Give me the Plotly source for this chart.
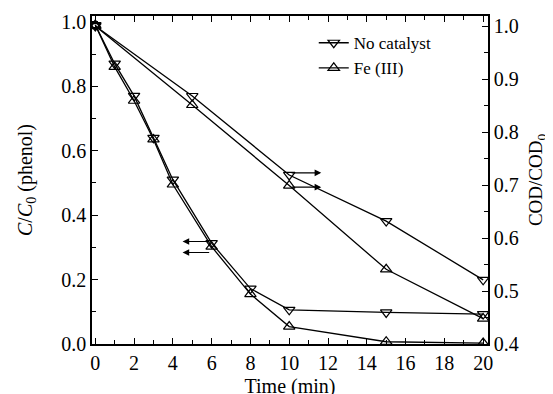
import plotly.graph_objects as go

# Data
t_phenol = [0, 1, 2, 3, 4, 6, 8, 10, 15, 20]
phenol_no_cat = [0.99, 0.87, 0.77, 0.64, 0.51, 0.313, 0.172, 0.106, 0.098, 0.093]
phenol_fe = [0.99, 0.86, 0.755, 0.635, 0.495, 0.302, 0.155, 0.054, 0.007, 0.003]

t_cod = [0, 5, 10, 15, 20]
cod_no_cat = [1.0, 0.868, 0.719, 0.632, 0.521]
cod_fe = [1.0, 0.851, 0.699, 0.541, 0.448]

x_ticks = [0, 2, 4, 6, 8, 10, 12, 14, 16, 18, 20]
yl_ticks = [0.0, 0.2, 0.4, 0.6, 0.8, 1.0]
yr_ticks = [0.4, 0.5, 0.6, 0.7, 0.8, 0.9, 1.0]

FONT = "Liberation Serif, Times New Roman, serif"
line_style = dict(color="black", width=1.3)
mk = 10

fig = go.Figure()
fig.add_trace(go.Scatter(x=t_phenol, y=phenol_no_cat, mode="lines+markers", name="No catalyst",
                         line=line_style, marker=dict(symbol="triangle-down-open", size=mk, color="black", line=dict(width=1.2)),
                         yaxis="y", legendgroup="a", showlegend=True))
fig.add_trace(go.Scatter(x=t_phenol, y=phenol_fe, mode="lines+markers", name="Fe (III)",
                         line=line_style, marker=dict(symbol="triangle-up-open", size=mk, color="black", line=dict(width=1.2)),
                         yaxis="y", legendgroup="b", showlegend=True))
fig.add_trace(go.Scatter(x=t_cod, y=cod_no_cat, mode="lines+markers", name="No catalyst",
                         line=line_style, marker=dict(symbol="triangle-down-open", size=mk, color="black", line=dict(width=1.2)),
                         yaxis="y2", legendgroup="a", showlegend=False))
fig.add_trace(go.Scatter(x=t_cod, y=cod_fe, mode="lines+markers", name="Fe (III)",
                         line=line_style, marker=dict(symbol="triangle-up-open", size=mk, color="black", line=dict(width=1.2)),
                         yaxis="y2", legendgroup="b", showlegend=False))

# arrows
arrows = [
    dict(x=4.5, y=0.318, ax=5.95, ay=0.318, xref="x", yref="y", axref="x", ayref="y"),
    dict(x=4.5, y=0.284, ax=5.95, ay=0.284, xref="x", yref="y", axref="x", ayref="y"),
    dict(x=11.65, y=0.723, ax=10.05, ay=0.723, xref="x", yref="y2", axref="x", ayref="y2"),
    dict(x=11.65, y=0.696, ax=10.05, ay=0.696, xref="x", yref="y2", axref="x", ayref="y2"),
]
for a in arrows:
    fig.add_annotation(text="", showarrow=True, arrowhead=2, arrowsize=1.2, arrowwidth=1.1,
                       arrowcolor="black", **a)

axis_common = dict(showline=True, linecolor="black", linewidth=1.5, ticks="inside",
                   tickcolor="black", ticklen=6, tickwidth=1.3, showgrid=False, zeroline=False,
                   automargin=False,
                   tickfont=dict(family=FONT, size=20, color="black"))

fig.update_layout(
    width=553, height=394,
    margin=dict(l=84, r=73, t=8, b=58),
    paper_bgcolor="white", plot_bgcolor="white",
    font=dict(family=FONT, size=18, color="black"),
    xaxis=dict(range=[-0.17, 20.25], tickvals=x_ticks, mirror="ticks",
               minor=dict(dtick=1, ticks="inside", ticklen=4, tickcolor="black", tickwidth=1.2),
               title=dict(text="Time (min)", font=dict(family=FONT, size=20), standoff=6),
               **axis_common),
    yaxis=dict(range=[0, 1.018], tickvals=yl_ticks, tickformat=".1f",
               minor=dict(dtick=0.1, ticks="inside", ticklen=4, tickcolor="black", tickwidth=1.2),
               title=dict(text="<i>C</i>/<i>C</i><sub>0</sub> (phenol)", font=dict(family=FONT, size=20), standoff=23),
               **axis_common),
    yaxis2=dict(range=[0.4, 1.019], tickvals=yr_ticks, tickformat=".1f", overlaying="y", side="right",
                minor=dict(dtick=0.05, ticks="inside", ticklen=4, tickcolor="black", tickwidth=1.2),
                title=dict(text="COD/COD<sub>0</sub>", font=dict(family=FONT, size=19), standoff=11),
                **axis_common),
    legend=dict(x=0.56, y=0.972, xanchor="left", yanchor="top", bgcolor="rgba(0,0,0,0)",
                font=dict(family=FONT, size=17), tracegroupgap=0, itemwidth=30),
)

fig.write_html("out.html")
